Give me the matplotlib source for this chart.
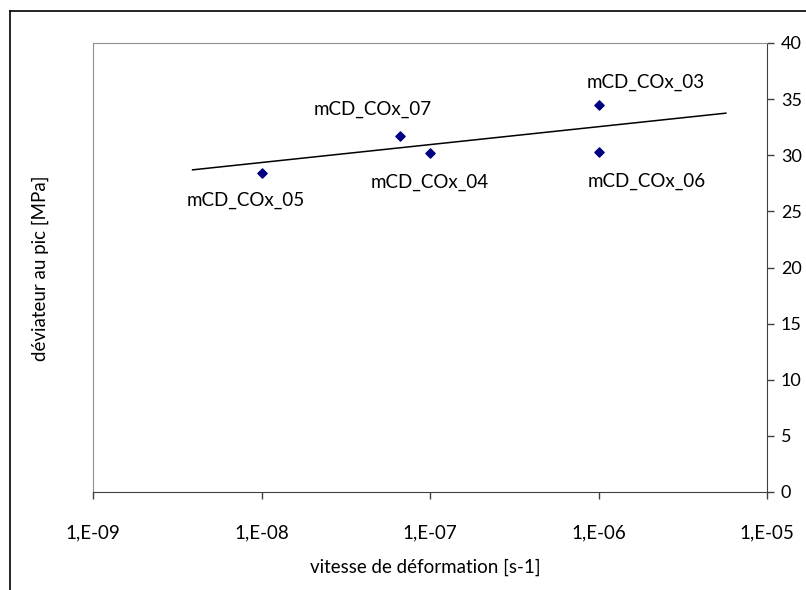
import numpy as np
import matplotlib.pyplot as plt
from matplotlib.lines import Line2D

# data
names = ["mCD_COx_05", "mCD_COx_07", "mCD_COx_04", "mCD_COx_03", "mCD_COx_06"]
rates = [1e-8, 6.6e-8, 1e-7, 1e-6, 1e-6]
peaks = [28.4, 31.7, 30.2, 34.5, 30.3]
trend_x = [3.9e-9, 5.7e-6]
trend_y = [28.7, 33.75]
xticks = [1e-9, 1e-8, 1e-7, 1e-6, 1e-5]
xticklabels = ["1,E-09", "1,E-08", "1,E-07", "1,E-06", "1,E-05"]
yticks = [0, 5, 10, 15, 20, 25, 30, 35, 40]

# label offsets in points (dx, dy)
offsets = [(-11, -19.5), (-19.5, 19.5), (0, -21), (34, 16), (35, -21.5)]

plt.rcParams['font.family'] = ['Lato', 'DejaVu Sans']
fs = 13.5

W, H = 806, 590
fig = plt.figure(figsize=(W/100, H/100), dpi=100)
ax = fig.add_axes([93/W, 1-492/H, (767-93)/W, (492-43)/H])

ax.plot(trend_x, trend_y, color='black', lw=1.1)
ax.scatter(rates, peaks, marker='D', s=22, color='#000080', zorder=3)

for n, x, y, (dx, dy) in zip(names, rates, peaks, offsets):
    ax.annotate(n, (x, y), xytext=(dx, dy), textcoords='offset points',
                ha='center', va='center', fontsize=fs)

ax.set_xscale('log')
ax.set_xlim(1e-9, 1e-5)
ax.set_ylim(0, 40)
ax.set_xticks(xticks)
ax.set_xticklabels(xticklabels)
ax.minorticks_off()
ax.set_yticks(yticks)
ax.yaxis.tick_right()
ax.tick_params(axis='both', direction='out', length=5, width=1, color='#404040', labelsize=fs, pad=18)
ax.tick_params(axis='y', pad=5, labelsize=13)

for s in ['top', 'left']:
    ax.spines[s].set_color('#909090')
for s in ['bottom', 'right']:
    ax.spines[s].set_color('#404040')

fig.text(425/W, 1-567/H, "vitesse de déformation [s-1]", ha='center', va='center', fontsize=fs)
fig.text(40/W, 1-268/H, "déviateur au pic [MPa]", rotation=90, ha='center', va='center', fontsize=fs)

# outer chart frame
fig.add_artist(Line2D([10/W, 1.0], [1-11/H, 1-11/H], color='black', lw=1.2, transform=fig.transFigure))
fig.add_artist(Line2D([10/W, 10/W], [0.0, 1-11/H], color='black', lw=1.2, transform=fig.transFigure))

fig.savefig("out.png", dpi=100)
